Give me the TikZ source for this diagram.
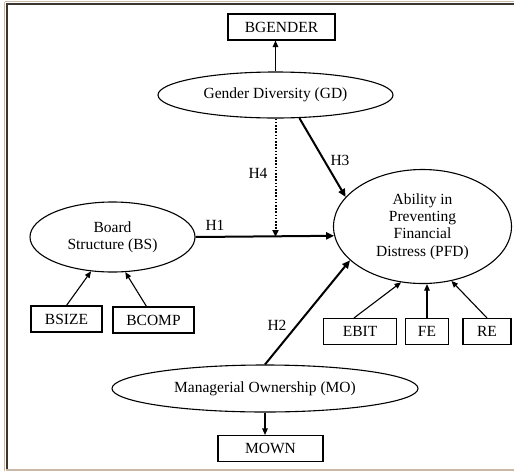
\documentclass[tikz,border=0pt]{standalone}
\usepackage{fontspec}
\setmainfont{Liberation Serif}
\usetikzlibrary{shapes.geometric,arrows.meta,calc}
\definecolor{framedark}{HTML}{3A3530}
\definecolor{frametan}{HTML}{C9B8A6}
\begin{document}
\begin{tikzpicture}[x=1pt,y=-1pt,
  every node/.style={font=\fontsize{15.5}{17.4}\selectfont},
  lat/.style={ellipse,draw,line width=1.1pt,inner sep=0pt,align=center},
  obs/.style={rectangle,draw,line width=1.1pt,inner sep=0pt,minimum height=26pt},
  ind/.style={line width=1.1pt,-{Triangle[length=6.5pt,width=5.5pt]}},
  hyp/.style={line width=2pt,-{Triangle[length=8pt,width=7pt]}},
  mod/.style={line width=2pt,dash pattern=on 1.6pt off 1.6pt,-{Triangle[length=7pt,width=6pt]}},
  lab/.style={inner sep=0pt}]
\useasboundingbox (0,0) rectangle (514,472);
\fill[white] (0,0) rectangle (514,472);
% frame
\draw[frametan,line width=1pt] (4.5,2) -- (4.5,471);
\draw[frametan,line width=1pt] (5,1) -- (514,1);
\draw[framedark,line width=2pt] (7,3.5) -- (7,470);
\draw[framedark,line width=2pt] (6,3.5) -- (514,3.5);
\draw[frametan,line width=2pt] (6,470) -- (514,470);

% latent variables
\node[lat,minimum width=235pt,minimum height=46pt] (GD) at (275.5,95) {Gender Diversity (GD)};
\node[lat,minimum width=165pt,minimum height=70pt] (BS) at (112.5,237) {Board\\Structure (BS)};
\node[lat,minimum width=178pt,minimum height=114pt] (PFD) at (422.5,226.5) {Ability in\\Preventing\\Financial\\Distress (PFD)};
\node[lat,minimum width=306pt,minimum height=47pt] (MO) at (265,388.5) {Managerial Ownership (MO)};

% indicators
\node[obs,minimum width=107pt] (BGENDER) at (281.5,27) {BGENDER};
\node[obs,minimum width=71pt] (BSIZE) at (66.5,319) {BSIZE};
\node[obs,minimum width=81pt] (BCOMP) at (153.5,320) {BCOMP};
\node[obs,minimum width=73pt] (EBIT) at (360,331.5) {EBIT};
\node[obs,minimum width=43pt] (FE) at (427,331.5) {FE};
\node[obs,minimum width=48pt] (RE) at (487,331.5) {RE};
\node[obs,minimum width=105pt] (MOWN) at (270.5,448.5) {MOWN};

% measurement arrows
\draw[ind] (GD.north) -- (GD.north |- BGENDER.south);
\draw[ind] (BSIZE.north) -- (BS.238);
\draw[ind] ($(BCOMP.north)+(-7,0)$) -- (BS.290);
\draw[ind] ($(EBIT.north)+(-6,0)$) -- (PFD.249);
\draw[ind] (FE.north) -- (FE.north |- PFD.south);
\draw[ind] (RE.north) -- (PFD.298);
\draw[ind] (MO.south) -- (MO.south |- MOWN.north);

% structural paths
\coordinate (m) at (BS.east -| GD.south);
\draw[hyp] (BS.east) -- (PFD.186);
\draw[mod] (GD.south) -- (m);
\draw[hyp] (GD.-44) -- (PFD.159);
\draw[hyp] (MO.north) -- (PFD.205);

% labels
\node[lab] (H1) at (215,225) {H1};
\node[lab] (H2) at (277,325) {H2};
\node[lab] (H3) at (340,160) {H3};
\node[lab] (H4) at (258,173) {H4};
\end{tikzpicture}
\end{document}
